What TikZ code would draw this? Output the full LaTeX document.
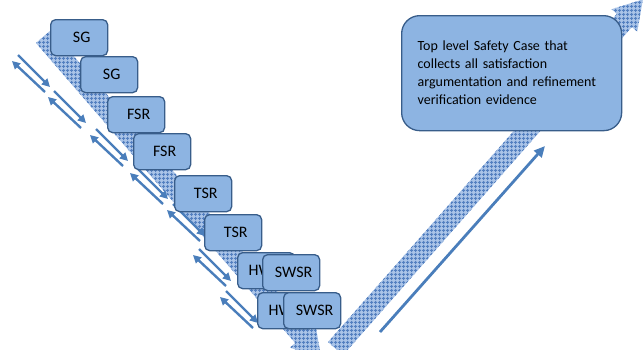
\documentclass[tikz,border=0pt]{standalone}
\usepackage{fontspec}
\setmainfont{Carlito}
\usetikzlibrary{arrows.meta,patterns.meta}
\definecolor{boxblue}{RGB}{141,180,226}
\definecolor{boxline}{RGB}{56,93,138}
\definecolor{arrowblue}{RGB}{74,126,187}
\definecolor{bandlight}{RGB}{170,196,232}
\definecolor{banddark}{RGB}{84,128,192}
\tikzset{
  req/.style={draw=boxline, fill=boxblue, line width=1.3pt, rounded corners=5pt,
    minimum width=57pt, minimum height=36pt, inner sep=0pt, anchor=north west,
    font=\fontsize{16}{18}\selectfont, execute at begin node=\hspace*{5pt}},
  casebox/.style={draw=boxline, fill=boxblue, line width=1.3pt, rounded corners=18pt,
    minimum width=220pt, minimum height=115pt, text width=188pt, inner xsep=16pt,
    align=left, anchor=north west, font=\fontsize{14}{18}\selectfont},
  band/.style={fill=bandlight, postaction={pattern color=banddark,
    pattern={Hatch[distance=4pt,angle=0,line width=1.1pt]}}},
  trace/.style={draw=arrowblue, line width=2.4pt, -{Triangle[length=8pt,width=8pt]}},
  verify/.style={draw=arrowblue, line width=2.8pt, -{Triangle[length=11pt,width=10pt]}}
}
\begin{document}
\begin{tikzpicture}[x=1pt,y=-1pt]
	\useasboundingbox (0,0) rectangle (644,349);
	\path[band] (36,43) -- (51.1,29.9) -- (310.3,329.9) -- (315.6,325.3) -- (321.1,357.7) -- (289.9,347.6) -- (295.2,343) -- cycle;
	\path[band] (328,342) -- (616.9,13.8) -- (611.6,9.2) -- (642.9,-0.6) -- (637.2,31.6) -- (631.9,27.0) -- (343,355.2) -- cycle;
	\foreach \x/\y [count=\i] in {12/61, 48/97, 90/135, 130/173, 167/210, 193/255, 220/297} {
		\coordinate (up\i) at (\x,\y);
		\coordinate (dn\i) at (\x+6,\y-6);
		\draw[trace] (\x+33,\y+31) -- (up\i);
		\draw[trace] (dn\i) -- ++(32,32);
	}
	\coordinate (vs) at (380,332);
	\coordinate (ve) at (545,146);
	\draw[verify] (vs) -- (ve);
	\node[req] (sg1) at (50,19) {SG};
	\node[req] (sg2) at (80,56) {SG};
	\node[req] (fsr1) at (107,96) {FSR};
	\node[req] (fsr2) at (133,133) {FSR};
	\node[req] (tsr1) at (174,175) {TSR};
	\node[req] (tsr2) at (204,214) {TSR};
	\node[req] (hw1) at (237,252) {HWSR};
	\node[req] (sw1) at (262,254) {SWSR};
	\node[req] (hw2) at (257,292) {HWSR};
	\node[req] (sw2) at (283,292) {SWSR};
	\node[casebox] (case) at (401,15) {Top level Safety Case that\\collects all satisfaction\\argumentation and refinement\\verification evidence};
\end{tikzpicture}
\end{document}
